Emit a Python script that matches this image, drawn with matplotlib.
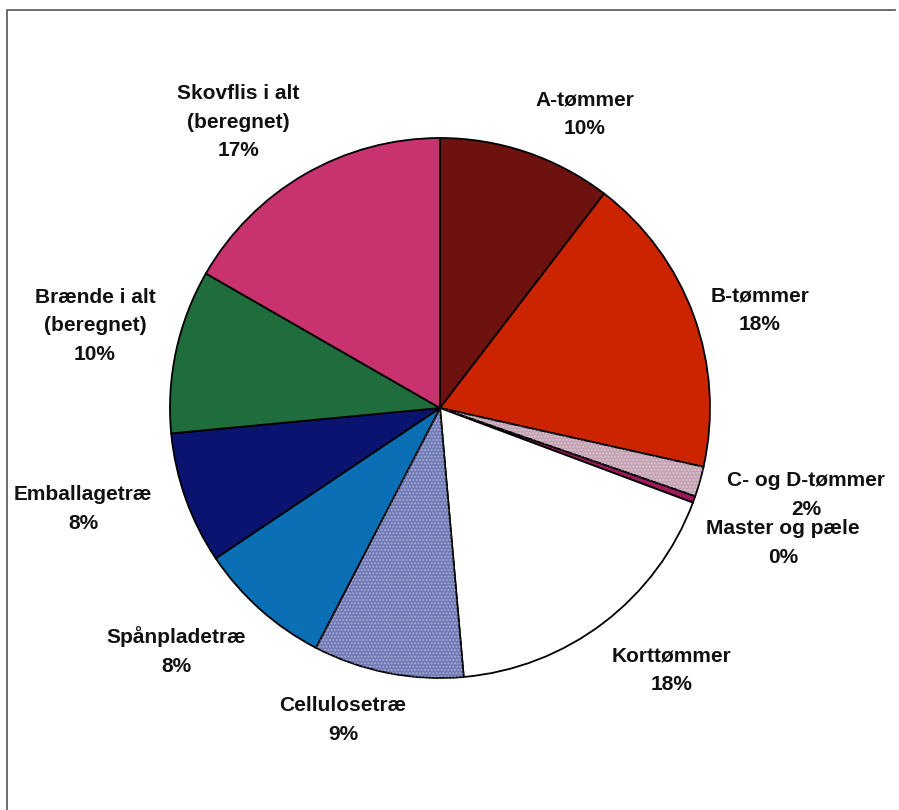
# -*- coding: utf-8 -*-
"""
Fordeling af træsortiment - lagkagediagram
"""

from matplotlib import pyplot as plt
from matplotlib.patches import Wedge
from matplotlib.lines import Line2D

plt.rcParams['font.family'] = ['Liberation Sans', 'DejaVu Sans']

# sortimenter og andele (procent)
names = ['A-tømmer', 'B-tømmer', 'C- og D-tømmer', 'Master og pæle', 'Korttømmer',
         'Cellulosetræ', 'Spånpladetræ', 'Emballagetræ', 'Brænde i alt\n(beregnet)',
         'Skovflis i alt\n(beregnet)']
shares = [10.4, 18.1, 1.8, 0.4, 17.9, 9.0, 8.0, 7.9, 9.8, 16.7]

colors = ['#6e1210', '#cc2400', '#c4a2b4', '#9e1a5c', '#ffffff',
          '#6f7ab6', '#0b6fb6', '#0a1470', '#1f6c3c', '#c8326e']

# label placement, in pie radius units
label_xy = [(0.537, 1.089), (1.185, 0.363), (1.356, -0.322), (1.270, -0.500),
            (0.859, -0.970), (-0.359, -1.156), (-0.978, -0.900), (-1.322, -0.374),
            (-1.278, 0.304), (-0.748, 1.059)]

fig = plt.figure(figsize=(8.99, 8.10), dpi=100)
W, H = 899.0, 810.0
cx, cy, r = 440.0, 408.0, 270.0
ax = fig.add_axes([(cx - r)/W, (H - cy - r)/H, 2*r/W, 2*r/H])

wedges, _ = ax.pie(shares, colors=colors, startangle=90, counterclock=False,
                   wedgeprops=dict(edgecolor='black', linewidth=1.3))

# dotted pattern on two of the slices
for i in (2, 5):
    w = wedges[i]
    ax.add_patch(Wedge(w.center, w.r, w.theta1, w.theta2, fill=False,
                       hatch='.....', edgecolor='white', linewidth=0, alpha=0.35))

for name, share, (x, y) in zip(names, shares, label_xy):
    ax.text(x, y, '%s\n%d%%' % (name, round(share)), ha='center', va='center',
            fontsize=15, fontweight='bold', color='#111111', linespacing=1.62)

ax.set_xlim(-1, 1)
ax.set_ylim(-1, 1)
ax.set_aspect('equal')
ax.axis('off')

# frame line at top and left
fig.add_artist(Line2D([7/W, 7/W, 895/W], [0, 1 - 10/H, 1 - 10/H],
                      transform=fig.transFigure, color='#555555', linewidth=1.2))

plt.savefig('out.png', dpi=100)
